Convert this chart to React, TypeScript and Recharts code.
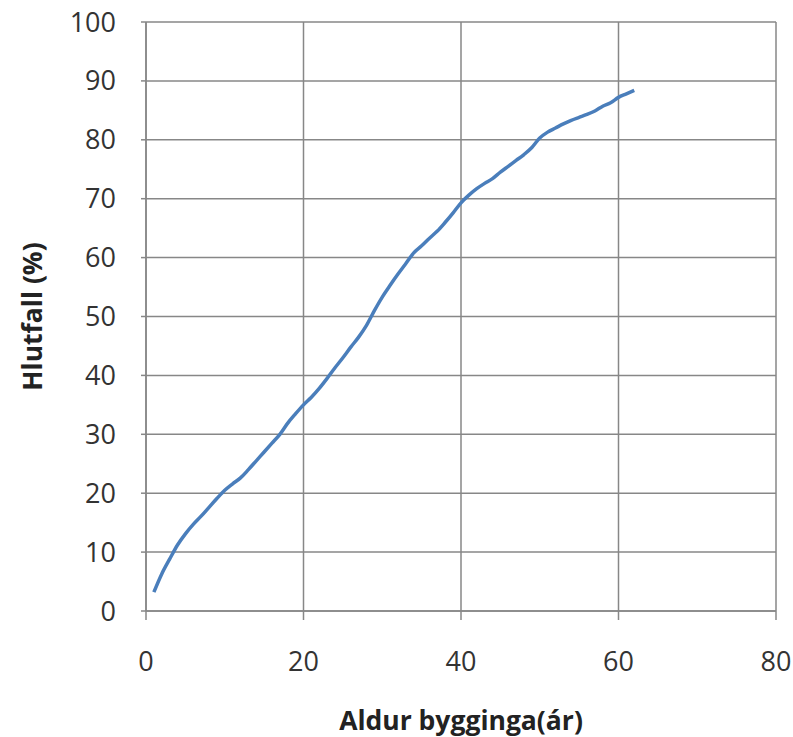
import React from "react";
import { LineChart, Line, XAxis, YAxis, CartesianGrid } from "recharts";

// Age of building (years) vs cumulative share (%)
const ages = [
  1, 2, 3, 4, 5, 6, 7, 8, 9, 10, 11, 12, 13, 14, 15, 16, 17, 18, 19, 20, 21,
  22, 23, 24, 25, 26, 27, 28, 29, 30, 31, 32, 33, 34, 35, 36, 37, 38, 39, 40,
  41, 42, 43, 44, 45, 46, 47, 48, 49, 50, 51, 52, 53, 54, 55, 56, 57, 58, 59,
  60, 61, 62,
];
const shares = [
  3.2, 6.3, 8.8, 11.2, 13.1, 14.7, 16.1, 17.6, 19.1, 20.5, 21.6, 22.6, 24.0,
  25.5, 27.0, 28.5, 30.0, 31.9, 33.5, 35.0, 36.3, 37.8, 39.5, 41.3, 43.0, 44.8,
  46.5, 48.5, 51.0, 53.3, 55.3, 57.2, 59.0, 60.8, 62.0, 63.3, 64.5, 66.0, 67.6,
  69.3, 70.6, 71.7, 72.6, 73.4, 74.5, 75.5, 76.5, 77.5, 78.7, 80.3, 81.3, 82.0,
  82.7, 83.3, 83.8, 84.3, 84.9, 85.7, 86.3, 87.2, 87.8, 88.4,
];
const xTicks = [0, 20, 40, 60, 80];
const yTicks = [0, 10, 20, 30, 40, 50, 60, 70, 80, 90, 100];

const data = ages.map((a, i) => ({ age: a, share: shares[i] }));

const font = "'Open Sans', sans-serif";
const gridColor = "#878787";
const titleStyle = { fontSize: 26.5, fontWeight: 700, fill: "#222", fontFamily: font };

export default function App() {
  return (
    <div style={{ position: "absolute", left: 0, top: 0, width: 793, height: 737, background: "#fff" }}>
      <LineChart
        width={793}
        height={737}
        data={data}
        margin={{ top: 22, right: 17, bottom: 0, left: 0 }}
      >
        <CartesianGrid stroke={gridColor} strokeWidth={1.5} />
        <XAxis
          dataKey="age"
          type="number"
          domain={[0, 80]}
          ticks={xTicks}
          height={126}
          stroke={gridColor}
          strokeWidth={1.5}
          tickSize={9}
          tickMargin={32}
          tick={{ fontSize: 27, fill: "#333", fontFamily: font }}
          label={{
            value: "Aldur bygginga(ár)",
            position: "insideBottom",
            offset: 7,
            style: titleStyle,
          }}
        />
        <YAxis
          type="number"
          domain={[0, 100]}
          ticks={yTicks}
          width={146}
          stroke={gridColor}
          strokeWidth={1.5}
          tickSize={5}
          tickMargin={25}
          tick={{ fontSize: 27, fill: "#333", fontFamily: font }}
          label={{
            value: "Hlutfall (%)",
            angle: -90,
            position: "insideLeft",
            offset: 33,
            style: { ...titleStyle, textAnchor: "middle" },
          }}
        />
        <Line
          dataKey="share"
          type="monotone"
          stroke="#4a7ebb"
          strokeWidth={3.5}
          dot={false}
          isAnimationActive={false}
        />
      </LineChart>
    </div>
  );
}
